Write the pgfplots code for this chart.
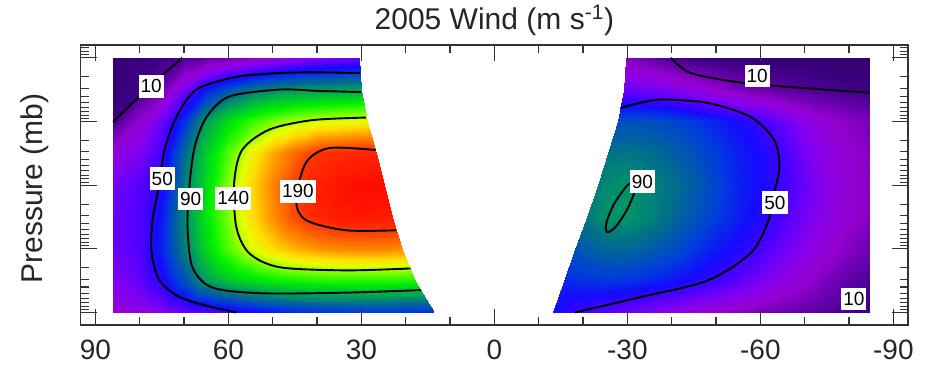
\documentclass[border=0pt]{standalone}
\usepackage{fontspec}
\setmainfont{Liberation Sans}
\usepackage{pgfplots}
\pgfplotsset{compat=1.18}
\usepackage{pgfplotstable}

% Northern hemisphere (left part): lat, log10(p/mb), wind speed
\pgfplotstableread{
lat lp c
86 -2 5
80 -2 7
75 -2 9
70 -2 10.5
65 -2 14
60 -2 18
55 -2 22
50 -2 27
45 -2 31
40 -2 35
35 -2 38
30.6 -2 40
30.6 -2 40
30.6 -2 40
30.6 -2 40
30.6 -2 40
86 -1.5 6
80 -1.5 8.5
75 -1.5 17
70 -1.5 38
65 -1.5 58
60 -1.5 72
55 -1.5 82
50 -1.5 88
45 -1.5 91
40 -1.5 92
35 -1.5 93
30 -1.5 94
30 -1.5 94
30 -1.5 94
30 -1.5 94
30 -1.5 94
86 -1 9
80 -1 25
75 -1 40
70 -1 62
65 -1 92
60 -1 110
55 -1 123
50 -1 132
45 -1 138
40 -1 142
35 -1 144
30 -1 146
28.8 -1 146
28.8 -1 146
28.8 -1 146
28.8 -1 146
86 -0.5 28
80 -0.5 36
75 -0.5 48
70 -0.5 78
65 -0.5 105
60 -0.5 127
55 -0.5 148
50 -0.5 165
45 -0.5 178
40 -0.5 190
35 -0.5 193
30 -0.5 195
26.6 -0.5 196
26.6 -0.5 196
26.6 -0.5 196
26.6 -0.5 196
86 0 38
80 0 44
75 0 53
70 0 83
65 0 108
60 0 134
55 0 155
50 0 172
45 0 189
40 0 198
35 0 203
30 0 205
25 0 205
24.8 0 205
24.8 0 205
24.8 0 205
86 0.5 40
80 0.5 45
75 0.5 58
70 0.5 86
65 0.5 112
60 0.5 133
55 0.5 153
50 0.5 170
45 0.5 185
40 0.5 195
35 0.5 200
30 0.5 201
25 0.5 200
23 0.5 200
23 0.5 200
23 0.5 200
86 1 40
80 1 45
75 1 60
70 1 84
65 1 108
60 1 127
55 1 143
50 1 155
45 1 163
40 1 168
35 1 171
30 1 172
25 1 172
20.8 1 170
20.8 1 170
20.8 1 170
86 1.5 35
80 1.5 42
75 1.5 52
70 1.5 70
65 1.5 91
60 1.5 102
55 1.5 109
50 1.5 114
45 1.5 117
40 1.5 119
35 1.5 120
30 1.5 120
25 1.5 120
20 1.5 119
17.8 1.5 118
17.8 1.5 118
86 2 25
80 2 30
75 2 35
70 2 40
65 2 44
60 2 48
55 2 53
50 2 57
45 2 60
40 2 62
35 2 63
30 2 64
25 2 64
20 2 63
15 2 62
13.7 2 62
}\leftdata

% Southern hemisphere (right part)
\pgfplotstableread{
lat lp c
-84.7 -2 4
-80 -2 4
-75 -2 4
-70 -2 5
-65 -2 5
-60 -2 5.5
-55 -2 6
-50 -2 7
-45 -2 8
-40 -2 10
-35 -2 15
-30 -2 21
-29.7 -2 22
-29.7 -2 22
-29.7 -2 22
-29.7 -2 22
-84.7 -1.5 8
-80 -1.5 9
-75 -1.5 10.5
-70 -1.5 12
-65 -1.5 14
-60 -1.5 17
-55 -1.5 20
-50 -1.5 25
-45 -1.5 30
-40 -1.5 35
-35 -1.5 38
-30 -1.5 40
-29.2 -1.5 40
-29.2 -1.5 40
-29.2 -1.5 40
-29.2 -1.5 40
-84.7 -1 19
-80 -1 22
-75 -1 26
-70 -1 32
-65 -1 40
-60 -1 48
-55 -1 55
-50 -1 60
-45 -1 64
-40 -1 68
-35 -1 70
-30 -1 70
-27.8 -1 69
-27.8 -1 69
-27.8 -1 69
-27.8 -1 69
-84.7 -0.5 21
-80 -0.5 25
-75 -0.5 30
-70 -0.5 38
-65 -0.5 47
-60 -0.5 54
-55 -0.5 59
-50 -0.5 65
-45 -0.5 71
-40 -0.5 76
-35 -0.5 80
-30 -0.5 82
-25.7 -0.5 81
-25.7 -0.5 81
-25.7 -0.5 81
-25.7 -0.5 81
-84.7 0 22
-80 0 26
-75 0 32
-70 0 40
-65 0 48
-60 0 55
-55 0 60
-50 0 67
-45 0 75
-40 0 81
-35 0 86
-30 0 89
-25 0 87
-23.4 0 85
-23.4 0 85
-23.4 0 85
-84.7 0.5 21
-80 0.5 25
-75 0.5 31
-70 0.5 38
-65 0.5 46
-60 0.5 53
-55 0.5 59
-50 0.5 65
-45 0.5 72
-40 0.5 79
-35 0.5 85
-30 0.5 90
-25 0.5 89
-20.8 0.5 83
-20.8 0.5 83
-20.8 0.5 83
-84.7 1 17
-80 1 21
-75 1 27
-70 1 33
-65 1 40
-60 1 47
-55 1 53
-50 1 58
-45 1 64
-40 1 70
-35 1 75
-30 1 78
-25 1 78
-20 1 74
-18.2 1 71
-18.2 1 71
-84.7 1.5 11
-80 1.5 14
-75 1.5 19
-70 1.5 25
-65 1.5 31
-60 1.5 37
-55 1.5 43
-50 1.5 48
-45 1.5 53
-40 1.5 57
-35 1.5 60
-30 1.5 63
-25 1.5 64
-20 1.5 63
-15.8 1.5 61
-15.8 1.5 61
-84.7 2 8
-80 2 10
-75 2 12
-70 2 14
-65 2 16
-60 2 19
-55 2 22
-50 2 25
-45 2 28
-40 2 32
-35 2 36
-30 2 40
-25 2 44
-20 2 48
-15 2 53
-13.3 2 55
}\rightdata

\pgfplotsset{
  commonaxis/.style={
    at={(0,0)}, anchor=south west,
    width=827pt, height=280pt, scale only axis,
    xmin=-93.3, xmax=93.3, x dir=reverse,
    ymin=-2.2, ymax=2.2, y dir=reverse,
  },
  cline/.style={black, line width=1.9pt, smooth, no markers},
}
\tikzset{
  clab/.style={fill=white, inner xsep=2pt, inner ysep=4.5pt, font=\fontsize{19}{22}\selectfont},
}

\begin{document}
\begin{tikzpicture}
\path[use as bounding box] (-80.7pt,-42pt) rectangle (846pt,325pt);
\begin{axis}[commonaxis,
  view={0}{90}, hide axis,
  zmin=-1, zmax=1,
  colormap={wind}{rgb255(0pt)=(45,0,95); rgb255(8pt)=(60,0,130); rgb255(15pt)=(100,0,170);
    rgb255(25pt)=(150,0,210); rgb255(35pt)=(130,0,240); rgb255(45pt)=(80,0,255);
    rgb255(55pt)=(20,10,255); rgb255(65pt)=(0,60,220); rgb255(80pt)=(0,110,140);
    rgb255(95pt)=(0,170,80); rgb255(115pt)=(0,240,0); rgb255(130pt)=(100,255,0);
    rgb255(145pt)=(230,255,0); rgb255(155pt)=(255,220,0); rgb255(170pt)=(255,140,0);
    rgb255(190pt)=(255,50,0); rgb255(210pt)=(255,0,0)},
  point meta min=0, point meta max=210,
]
\addplot3[surf, shader=interp, mesh/cols=16, point meta=explicit]
  table[x=lat, y=lp, z expr=0, meta=c] {\leftdata};
\addplot3[surf, shader=interp, mesh/cols=16, point meta=explicit]
  table[x=lat, y=lp, z expr=0, meta=c] {\rightdata};
\end{axis}

\begin{axis}[commonaxis,
  xtick={-90,-60,-30,0,30,60,90},
  xticklabels={-90,-60,-30,0,30,60,90},
  minor xtick={-80,-70,-50,-40,-20,-10,10,20,40,50,70,80},
  ytick={-2,-1,0,1,2}, yticklabels={},
  minor ytick={-2.155,-2.097,-2.046,
    -1.699,-1.523,-1.398,-1.301,-1.222,-1.155,-1.097,-1.046,
    -0.699,-0.523,-0.398,-0.301,-0.222,-0.155,-0.097,-0.046,
    0.301,0.477,0.602,0.699,0.778,0.845,0.903,0.954,
    1.301,1.477,1.602,1.699,1.778,1.845,1.903,1.954},
  major tick length=16pt, minor tick length=8pt,
  every tick/.append style={black!80, line width=1.1pt},
  axis line style={black!80, line width=1.5pt},
  xticklabel style={font=\fontsize{28}{32}\selectfont, anchor=base, yshift=-34pt, text=black!85},
  title={2005 Wind (m s\textsuperscript{-1})},
  title style={at={(axis description cs:0.5,1)}, anchor=base, yshift=10pt,
    font=\fontsize{30}{36}\selectfont, text=black!85},
  ylabel={Pressure (mb)},
  ylabel style={at={(axis description cs:-0.0456,0.4875)}, anchor=base,
    font=\fontsize{30}{36}\selectfont, text=black!85},
]
% contour 10 (north)
\addplot[cline] coordinates {(86,-0.99) (80.1,-1.39) (75.6,-1.68) (70.4,-2.0)};
% contour 50 (north)
\addplot[cline] coordinates {(30.3,-1.76) (40,-1.77) (48.5,-1.76) (58.2,-1.70) (67.2,-1.5)
  (71.7,-1.07) (74.4,-0.55) (75.5,-0.03) (77.1,0.55) (77.3,1.07) (75.5,1.50) (71.0,1.76)
  (63.6,1.92) (58.2,2.0)};
% contour 90 (north)
\addplot[cline] coordinates {(30.0,-1.46) (40,-1.48) (48.5,-1.50) (59.8,-1.39) (64.9,-1.07)
  (67.6,-0.60) (68.8,0.03) (69.2,0.66) (68.1,1.29) (63.6,1.61) (52.4,1.70) (33.5,1.69) (16.6,1.65)};
% contour 140 (north)
\addplot[cline] coordinates {(29.0,-1.06) (41.1,-1.02) (50.8,-0.87) (56.9,-0.55) (58.7,-0.03)
  (58.2,0.66) (55.3,1.07) (48.5,1.29) (33.5,1.34) (18.9,1.31)};
% contour 190 (north)
\addplot[cline] coordinates {(26.8,-0.55) (37.3,-0.58) (42.5,-0.35) (44.7,0.24) (42.5,0.55)
  (33.5,0.71) (22.1,0.71)};
% contour 10 (south, top)
\addplot[cline] coordinates {(-39.8,-2) (-44.3,-1.76) (-55.5,-1.61) (-66.7,-1.54) (-84.7,-1.45)};
% contour 50 (south)
\addplot[cline] coordinates {(-28.4,-1.21) (-36.9,-1.34) (-48.1,-1.29) (-57.8,-1.07) (-63.1,-0.71)
  (-64.3,-0.28) (-62.7,0.24) (-61.6,0.60) (-57.8,1.07) (-48.1,1.50) (-33.0,1.76) (-18.2,2.0)};
% contour 90 (south, closed)
\addplot[cline] coordinates {(-29.8,0.017) (-31.7,-0.063) (-31.7,0.093) (-29.9,0.392) (-27.3,0.660)
  (-25.4,0.740) (-25.3,0.584) (-27.1,0.285) (-29.8,0.017)};

\node[clab] at (axis cs:77.4,-1.55) {10};
\node[clab] at (axis cs:74.9,-0.10) {50};
\node[clab] at (axis cs:68.5,0.22) {90};
\node[clab] at (axis cs:58.9,0.21) {140};
\node[clab] at (axis cs:44.3,0.10) {190};
\node[clab] at (axis cs:-59.3,-1.71) {10};
\node[clab] at (axis cs:-63.3,0.276) {50};
\node[clab] at (axis cs:-33.4,-0.055) {90};
\node[clab] at (axis cs:-81.1,1.79) {10};
\end{axis}
\end{tikzpicture}
\end{document}
